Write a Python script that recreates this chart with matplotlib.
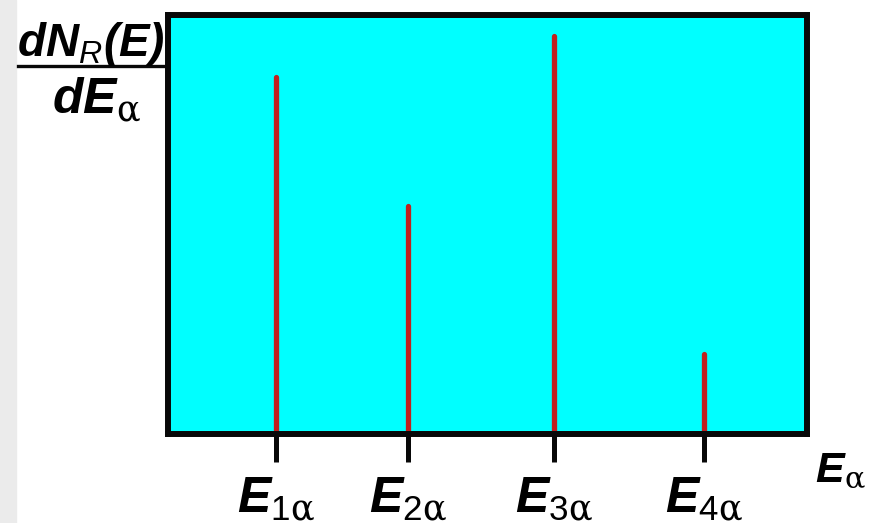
"""Line spectrum of alpha energies"""
import matplotlib
matplotlib.use("Agg")
import matplotlib.pyplot as plt
from matplotlib.patches import Rectangle
from matplotlib.lines import Line2D

plt.rcParams['mathtext.fontset'] = 'custom'
plt.rcParams['mathtext.rm'] = 'DejaVu Serif'
plt.rcParams['mathtext.sf'] = 'Liberation Sans'
plt.rcParams['mathtext.it'] = 'Liberation Sans:italic'
plt.rcParams['mathtext.bf'] = 'Liberation Sans:bold'
plt.rcParams['mathtext.bfit'] = 'Liberation Sans:bold:italic'

# peak data
peak_index = ['1', '2', '3', '4']
peak_energy = [1.69, 3.76, 6.04, 8.39]
peak_height = [0.852, 0.544, 0.950, 0.191]

tick_labels = [r'$\mathbfit{E}_{\mathsf{%s}\mathrm{α}}$' % i for i in peak_index]
y_num = r'$\mathbfit{dN}_{\mathit{R}}\mathbfit{(E)}$'
y_den = r'$\mathbfit{dE}_{\mathrm{α}}$'
x_label = r'$\mathbfit{E}_{\mathrm{α}}$'

fig = plt.figure(figsize=(8.79, 5.23), dpi=100)
fig.patches.append(Rectangle((0, 0), 16 / 879, 1, transform=fig.transFigure,
                             color='#ebebeb', zorder=0))
ax = fig.add_axes([0.191, 0.170, 0.727, 0.801])
ax.set_facecolor('#00ffff')

lines = ax.vlines(peak_energy, 0, peak_height, color='#c0201e', lw=3.8)
lines.set_capstyle('round')

ax.set_xlim(0, 10)
ax.set_ylim(0, 1)
for s in ax.spines.values():
    s.set_linewidth(4.3)
    s.set_color('#080808')
    s.set_zorder(5)

ax.set_xticks(peak_energy)
ax.set_xticklabels(tick_labels, fontsize=36)
ax.tick_params(axis='x', direction='out', length=20, width=3.6,
               color='#080808', pad=10)
ax.set_yticks([])

fig.text(840 / 879, 1 - 470 / 523, x_label,
         fontsize=31, ha='center', va='center')

# y label drawn as a fraction: numerator, bar, denominator
fig.text(91 / 879, 1 - 44 / 523, y_num, fontsize=33, ha='center', va='center')
fig.lines.append(Line2D([18 / 879, 165 / 879], [1 - 66 / 523, 1 - 66 / 523],
                        transform=fig.transFigure, color='#080808', lw=2.4))
fig.text(97 / 879, 1 - 100 / 523, y_den, fontsize=36, ha='center', va='center')

plt.savefig("out.png")
